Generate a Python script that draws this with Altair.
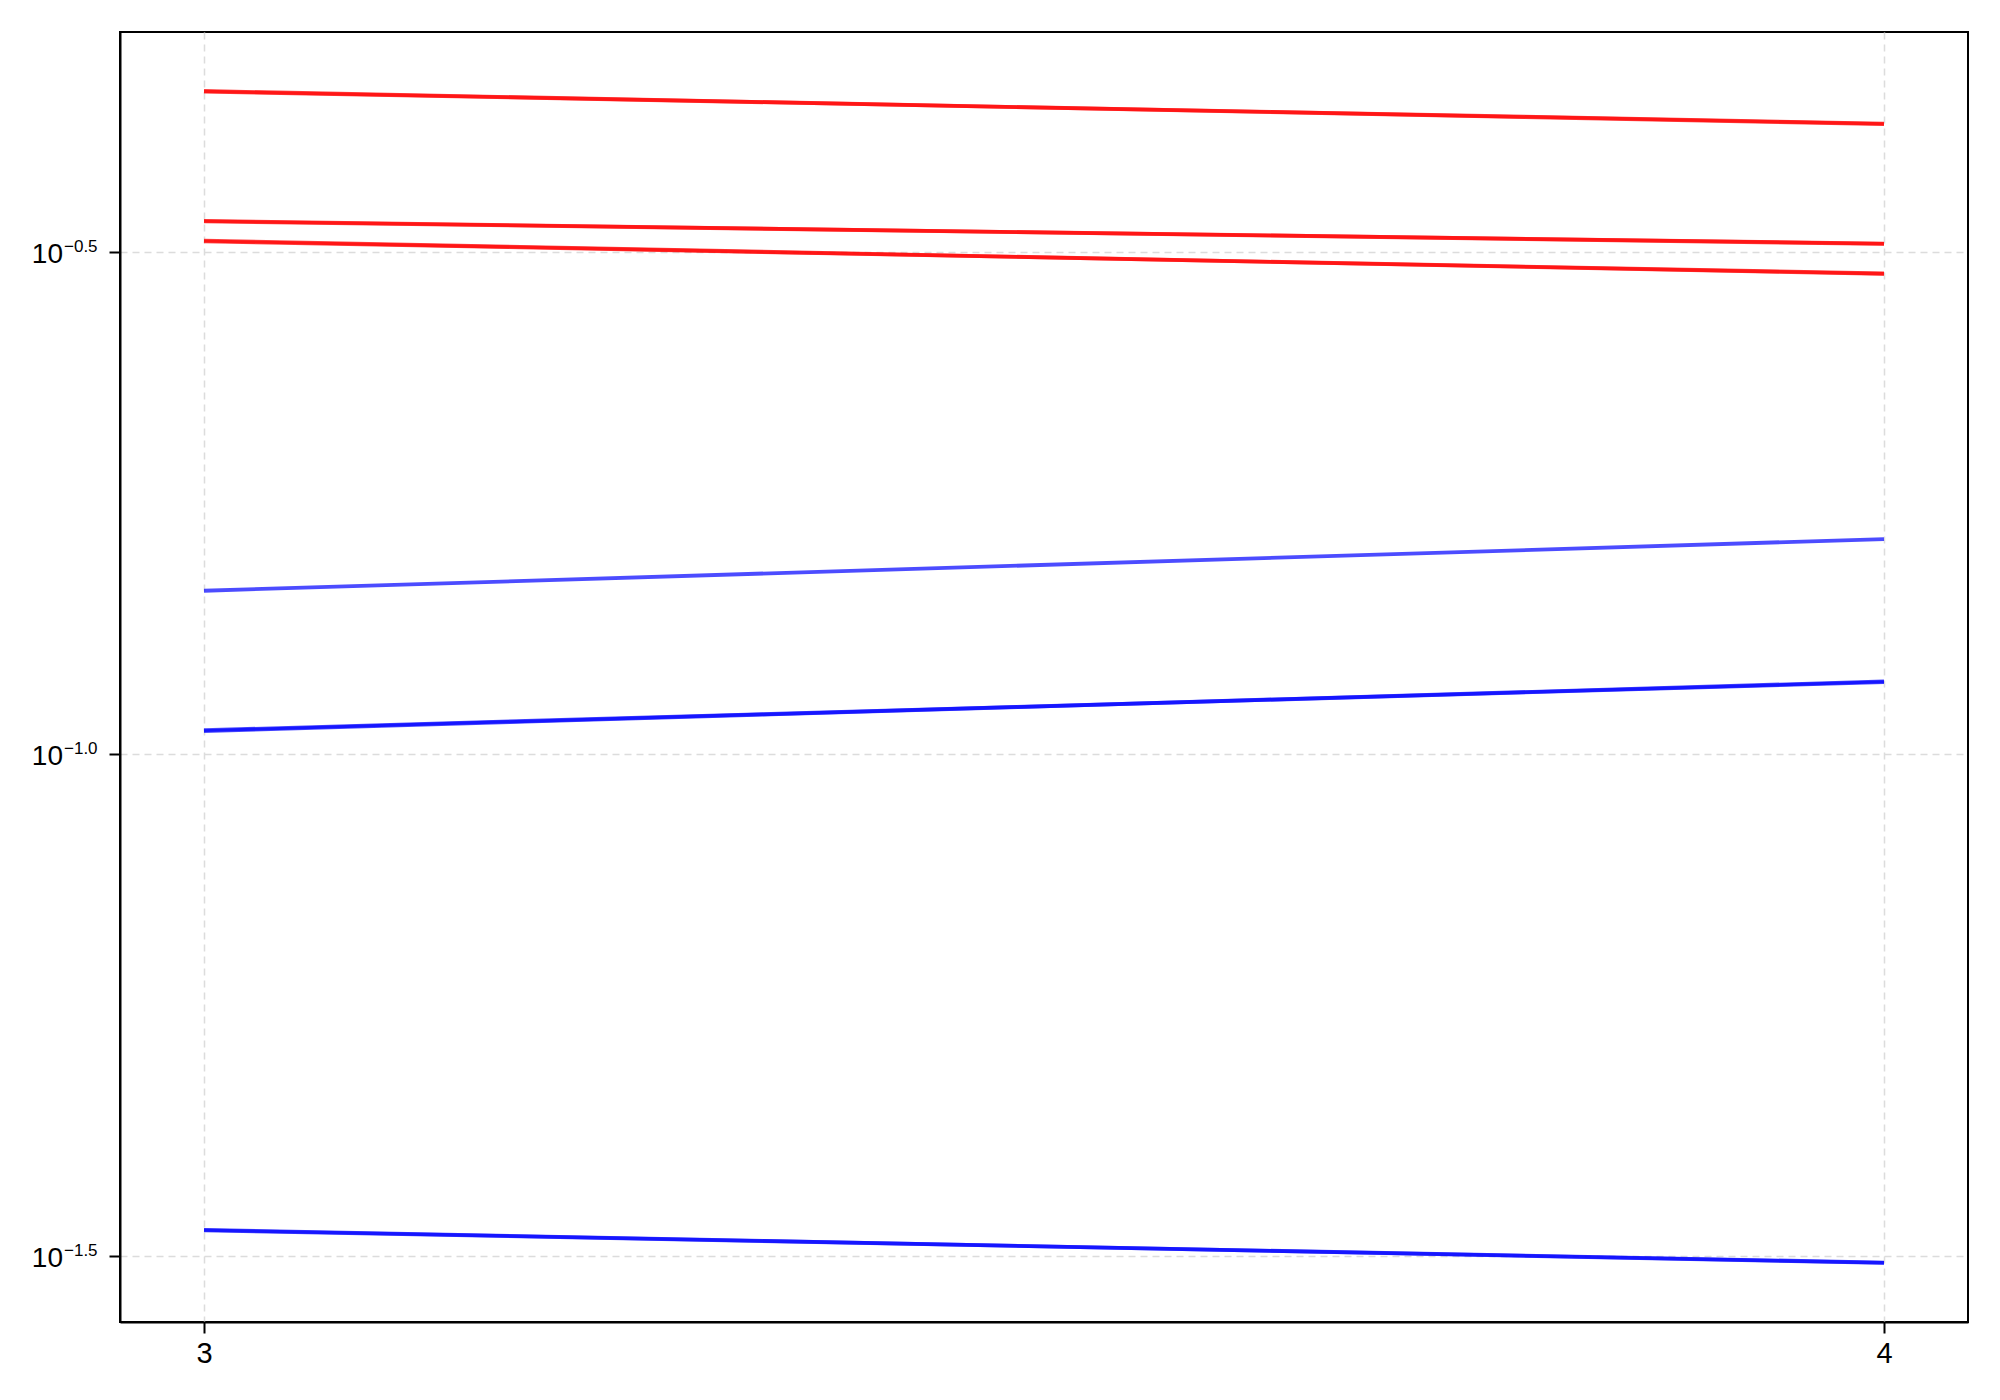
import altair as alt
import pandas as pd

# ---- data ----
x_vals = [3, 4]
series_names = ["r1a", "r1b", "r2a", "r2b", "r3a", "r3b",
                "b1", "b2a", "b2b", "b3a", "b3b"]
series_groups = ["red", "red", "red", "red", "red", "red",
                 "blue", "blue", "blue", "blue", "blue"]
series_values = [
    [0.4574, 0.4240],
    [0.4568, 0.4245],
    [0.3396, 0.3221],
    [0.3392, 0.3224],
    [0.3245, 0.3007],
    [0.3240, 0.3010],
    [0.1454, 0.1637],
    [0.1056, 0.1179],
    [0.1054, 0.1181],
    [0.03357, 0.03112],
    [0.03354, 0.03115],
]
y_tick_values = [10 ** -0.5, 10 ** -1.0, 10 ** -1.5]
y_tick_base = ["10", "10", "10"]
y_tick_exp = ["\u22120.5", "\u22121.0", "\u22121.5"]
x_tick_values = [3, 4]

rows = []
for name, grp, vals in zip(series_names, series_groups, series_values):
    for xv, yv in zip(x_vals, vals):
        rows.append({"series": name, "group": grp, "x": xv, "y": yv})
df = pd.DataFrame(rows)

tick_df = pd.DataFrame({"y": y_tick_values, "base": y_tick_base, "exp": y_tick_exp})

x_scale = alt.Scale(domain=[2.95, 4.05], nice=False, zero=False)
y_scale = alt.Scale(type="log", domain=[0.02718, 0.5237], nice=False)

lines = alt.Chart(df).mark_line(strokeWidth=3.8, opacity=0.7).encode(
    x=alt.X("x:Q", scale=x_scale,
            axis=alt.Axis(values=x_tick_values, title=None, format="d")),
    y=alt.Y("y:Q", scale=y_scale,
            axis=alt.Axis(values=y_tick_values, title=None, labels=False)),
    color=alt.Color("group:N", scale=alt.Scale(domain=["red", "blue"],
                                               range=["#ff0000", "#0000ff"]),
                    legend=None),
    detail="series:N",
)

base_txt = alt.Chart(tick_df).mark_text(
    align="right", baseline="alphabetic", fontSize=28, font="Liberation Sans",
    color="black", dy=11
).encode(
    x=alt.value(-57),
    y=alt.Y("y:Q", scale=y_scale),
    text="base:N",
)

exp_txt = alt.Chart(tick_df).mark_text(
    align="left", baseline="alphabetic", fontSize=17, font="Liberation Sans",
    color="black", dy=0
).encode(
    x=alt.value(-56),
    y=alt.Y("y:Q", scale=y_scale),
    text="exp:N",
)

chart = alt.layer(lines, base_txt, exp_txt).properties(
    width=1848,
    height=1290,
    autosize=alt.AutoSizeParams(type="none"),
    padding={"left": 120, "top": 32, "right": 32, "bottom": 78},
).configure_view(
    stroke="black", strokeWidth=2
).configure_axis(
    domainColor="black", domainWidth=2,
    tickColor="black", tickWidth=2, tickSize=11,
    grid=True, gridColor="#dcdcdc", gridDash=[7, 5], gridWidth=1.5,
    labelFont="Liberation Sans", labelFontSize=29, labelColor="black",
    labelPadding=6,
)

chart.save("out.html", embed_options={"renderer": "svg", "actions": False})
